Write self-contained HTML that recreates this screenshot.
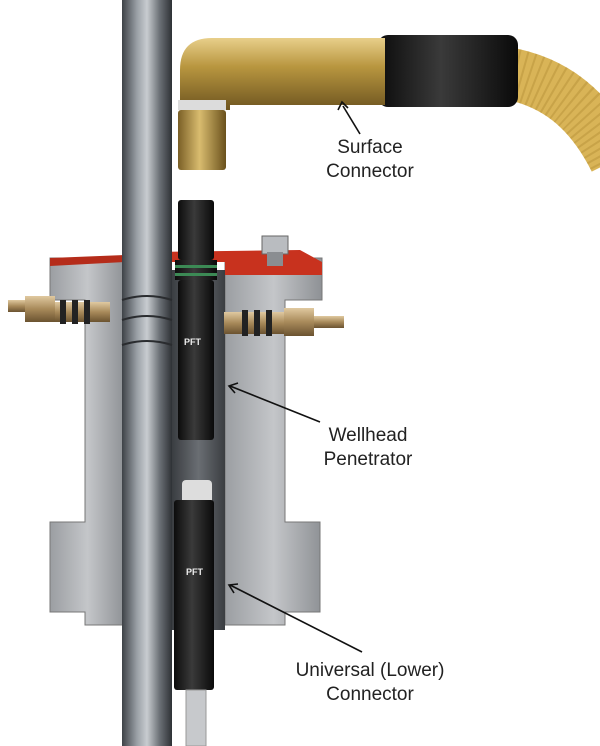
<!DOCTYPE html>
<html><head><meta charset="utf-8"><style>
html,body{margin:0;padding:0;background:#fff;}
svg{display:block}
text{font-family:"Liberation Sans",sans-serif;font-size:19px;fill:#222;}
</style></head><body>
<svg width="600" height="746" viewBox="0 0 600 746" xmlns="http://www.w3.org/2000/svg">
<defs>
<linearGradient id="pipe" x1="0" x2="1"><stop offset="0" stop-color="#3e4247"/><stop offset=".3" stop-color="#9aa0a6"/><stop offset=".5" stop-color="#c8ccd0"/><stop offset=".75" stop-color="#6c7177"/><stop offset="1" stop-color="#2e3135"/></linearGradient>
<linearGradient id="body" x1="0" x2="1"><stop offset="0" stop-color="#9b9ea2"/><stop offset=".5" stop-color="#c4c6c9"/><stop offset="1" stop-color="#8e9195"/></linearGradient>
<linearGradient id="black" x1="0" x2="1"><stop offset="0" stop-color="#0c0c0c"/><stop offset=".45" stop-color="#3a3a3a"/><stop offset="1" stop-color="#0a0a0a"/></linearGradient>
<linearGradient id="gold" x1="0" y1="0" x2="0" y2="1"><stop offset="0" stop-color="#e8cf8a"/><stop offset=".4" stop-color="#b8963f"/><stop offset="1" stop-color="#6e5520"/></linearGradient>
<linearGradient id="goldv" x1="0" x2="1"><stop offset="0" stop-color="#7a5f26"/><stop offset=".45" stop-color="#d9bc6f"/><stop offset="1" stop-color="#6a511c"/></linearGradient>
<linearGradient id="brass" x1="0" y1="0" x2="0" y2="1"><stop offset="0" stop-color="#e0c9a0"/><stop offset=".5" stop-color="#a88a5a"/><stop offset="1" stop-color="#6b5330"/></linearGradient>
<linearGradient id="cavity" x1="0" x2="1"><stop offset="0" stop-color="#3a3d41"/><stop offset=".5" stop-color="#6a6e73"/><stop offset="1" stop-color="#3a3d41"/></linearGradient>
</defs>
<!-- wellhead body -->
<path d="M50 258 H125 V625 H85 V612 H50 V522 H85 V300 H50 Z" fill="url(#body)" stroke="#777" stroke-width="1"/>
<path d="M225 258 H322 V300 H285 V522 H320 V612 H285 V625 H225 Z" fill="url(#body)" stroke="#777" stroke-width="1"/>
<rect x="172" y="270" width="53" height="360" fill="url(#cavity)"/>
<!-- red plate -->
<path d="M150 252 L300 250 L322 262 L322 275 L225 275 L225 262 L172 262 Z" fill="#c8321e"/>
<path d="M50 258 L125 255 L125 262 L50 266 Z" fill="#b52c1a"/>
<!-- bolt -->
<rect x="262" y="236" width="26" height="18" fill="#b9bcc0" stroke="#666"/>
<rect x="267" y="252" width="16" height="14" fill="#8a8d91"/>
<!-- pipe -->
<rect x="122" y="0" width="50" height="746" fill="url(#pipe)"/>
<g stroke="#2a2c2f" stroke-width="2" fill="none"><path d="M122 300 Q147 292 172 300"/><path d="M122 320 Q147 312 172 320"/><path d="M122 345 Q147 337 172 345"/></g>
<!-- side fittings -->
<rect x="8" y="300" width="18" height="12" fill="url(#brass)"/>
<rect x="25" y="296" width="30" height="26" fill="url(#brass)"/>
<rect x="55" y="302" width="55" height="20" fill="url(#brass)"/>
<rect x="60" y="300" width="6" height="24" fill="#222"/><rect x="72" y="300" width="6" height="24" fill="#222"/><rect x="84" y="300" width="6" height="24" fill="#222"/>
<rect x="224" y="312" width="60" height="22" fill="url(#brass)"/>
<rect x="242" y="310" width="6" height="26" fill="#222"/><rect x="254" y="310" width="6" height="26" fill="#222"/><rect x="266" y="310" width="6" height="26" fill="#222"/>
<rect x="284" y="308" width="30" height="28" fill="url(#brass)"/>
<rect x="314" y="316" width="30" height="12" fill="url(#brass)"/>
<!-- penetrator -->
<rect x="178" y="200" width="36" height="60" rx="3" fill="url(#black)"/>
<rect x="175" y="260" width="42" height="20" fill="url(#black)"/>
<rect x="175" y="265" width="42" height="3" fill="#3c8a55"/><rect x="175" y="273" width="42" height="3" fill="#3c8a55"/>
<rect x="178" y="280" width="36" height="160" rx="3" fill="url(#black)"/>
<text x="184" y="345" style="font-size:9px;fill:#eee;font-weight:bold">PFT</text>
<!-- lower connector -->
<rect x="182" y="480" width="30" height="24" rx="4" fill="#ddd"/>
<rect x="174" y="500" width="40" height="190" rx="3" fill="url(#black)"/>
<text x="186" y="575" style="font-size:9px;fill:#eee;font-weight:bold">PFT</text>
<rect x="186" y="690" width="20" height="56" fill="#c7c9cc" stroke="#999"/>
<!-- surface connector -->
<path d="M500 72 C555 80 590 110 615 160" stroke="#d9b457" stroke-width="52" fill="none"/>
<path d="M500 72 C555 80 590 110 615 160" stroke="#b8923a" stroke-width="52" stroke-dasharray="2 5" fill="none" opacity=".5"/>
<rect x="378" y="35" width="140" height="72" rx="10" fill="url(#black)"/>
<path d="M190 38 H385 V105 H230 V110 H180 V70 Q180 38 212 38 Z" fill="url(#gold)"/>
<rect x="178" y="100" width="48" height="10" fill="#dcdcdc"/>
<rect x="178" y="110" width="48" height="60" rx="3" fill="url(#goldv)"/>
<!-- labels -->
<g stroke="#111" stroke-width="1.6" fill="none">
<line x1="360" y1="134" x2="343" y2="106"/><path d="M338 110 L342 102 L348 108"/>
<line x1="320" y1="422" x2="230" y2="386"/><path d="M238 383 L229 386 L235 393"/>
<line x1="362" y1="652" x2="230" y2="585"/><path d="M238 584 L229 585 L234 593"/>
</g>
<text x="370" y="153" text-anchor="middle">Surface</text>
<text x="370" y="177" text-anchor="middle">Connector</text>
<text x="368" y="441" text-anchor="middle">Wellhead</text>
<text x="368" y="465" text-anchor="middle">Penetrator</text>
<text x="370" y="676" text-anchor="middle">Universal (Lower)</text>
<text x="370" y="700" text-anchor="middle">Connector</text>
</svg>
</body></html>
